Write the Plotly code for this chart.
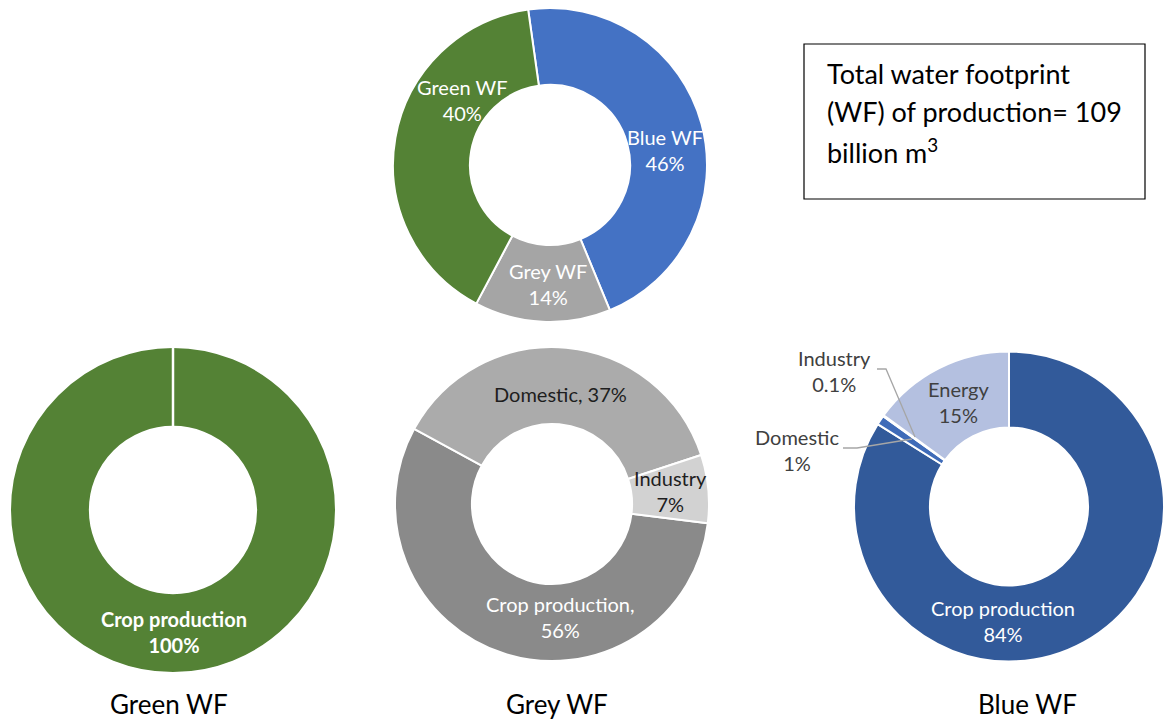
import plotly.graph_objects as go

W, H = 1164, 722
FONT = "Lato"

# ---- data -----------------------------------------------------------
total_labels = ["Blue WF", "Grey WF", "Green WF"]
total_values = [46, 14, 40]
total_colors = ["#4472C4", "#A5A5A5", "#548235"]

green_labels = ["Crop production"]
green_values = [100]

grey_labels = ["Crop production", "Domestic", "Industry"]
grey_values = [56, 37, 7]
grey_colors = ["#8A8A8A", "#ABABAB", "#D2D2D2"]

blue_labels = ["Crop production", "Domestic", "Industry", "Energy"]
blue_values = [84, 1, 0.1, 15]
blue_colors = ["#325A9A", "#3F6BB8", "#6F8FCB", "#B4C0E0"]

panel_titles = ["Green WF", "Grey WF", "Blue WF"]
total_note = ["Total water footprint", "(WF) of production= 109", "billion m<sup>3</sup>"]


def px(x):
    return x / W


def py(y):
    return 1 - y / H


def domain(cx, cy, r):
    return dict(x=[px(cx - r), px(cx + r)], y=[py(cy + r), py(cy - r)])


HOLE = 0.51
BORDER = dict(color="white", width=2)

fig = go.Figure()

# top: split of the total footprint
fig.add_trace(go.Pie(
    labels=total_labels, values=total_values, hole=HOLE, sort=False,
    direction="clockwise", rotation=-8, textinfo="none",
    marker=dict(colors=total_colors, line=BORDER),
    domain=domain(550, 165, 157), showlegend=False))

# bottom left: green WF by sector
g_cx, g_cy, g_r = 173, 510, 163
fig.add_trace(go.Pie(
    labels=green_labels, values=green_values, hole=HOLE, sort=False,
    direction="clockwise", rotation=0, textinfo="none",
    marker=dict(colors=["#548235"], line=BORDER),
    domain=domain(g_cx, g_cy, g_r), showlegend=False))

# bottom middle: grey WF by sector
fig.add_trace(go.Pie(
    labels=grey_labels, values=grey_values, hole=HOLE, sort=False,
    direction="clockwise", rotation=97, textinfo="none",
    marker=dict(colors=grey_colors, line=BORDER),
    domain=domain(552, 504, 157), showlegend=False))

# bottom right: blue WF by sector
fig.add_trace(go.Pie(
    labels=blue_labels, values=blue_values, hole=HOLE, sort=False,
    direction="clockwise", rotation=0, textinfo="none",
    marker=dict(colors=blue_colors, line=BORDER),
    domain=dict(x=[px(854), 1.0], y=[py(661.5), py(351.5)]), showlegend=False))

ann = []


def label(x, y, text, color, size=20):
    ann.append(dict(x=px(x), y=py(y), xref="paper", yref="paper", text=text,
                    showarrow=False, xanchor="center", yanchor="middle",
                    font=dict(family=FONT, size=size, color=color)))


# slice labels
tl = {k: v for k, v in zip(total_labels, total_values)}
label(462, 100, f"Green WF<br>{tl['Green WF']}%", "white")
label(665, 150, f"Blue WF<br>{tl['Blue WF']}%", "white")
label(548, 284, f"Grey WF<br>{tl['Grey WF']}%", "white")

label(174, 632, f"<b>{green_labels[0]}<br>{green_values[0]}%</b>", "white")

gl = {k: v for k, v in zip(grey_labels, grey_values)}
label(560, 394, f"Domestic, {gl['Domestic']}%", "#1E1E1E")
label(670, 491, f"Industry<br>{gl['Industry']}%", "#1E1E1E")
label(560, 617, f"Crop production,<br>{gl['Crop production']}%", "white")

bl = {k: v for k, v in zip(blue_labels, blue_values)}
label(1003, 621, f"Crop production<br>{bl['Crop production']}%", "white")
label(958, 402, f"Energy<br>{bl['Energy']}%", "#404040")
label(834, 371, f"Industry<br>{bl['Industry']}%", "#404040")
label(797, 450, f"Domestic<br>{bl['Domestic']}%", "#404040")

# panel titles
for t, x in zip(panel_titles, [169, 557, 1027]):
    label(x, 704, t, "black", size=26)

# note box text
for i, line in enumerate(total_note):
    ann.append(dict(x=px(825), y=py(73 + 39 * i), xref="paper", yref="paper",
                    text=line, showarrow=False, xanchor="left", yanchor="middle",
                    font=dict(family=FONT, size=27, color="black")))


def path(points):
    return "M " + " L ".join(f"{px(x)},{py(y)}" for x, y in points)


shapes = [
    # note box
    dict(type="rect", xref="paper", yref="paper", x0=px(804), x1=px(1145),
         y0=py(199), y1=py(44), line=dict(color="black", width=1.2)),
    # seam of the single-slice ring
    dict(type="line", xref="paper", yref="paper", x0=px(g_cx), x1=px(g_cx),
         y0=py(g_cy - g_r), y1=py(g_cy - g_r * HOLE), line=dict(color="white", width=2.5)),
    # leader lines for the small slices
    dict(type="path", xref="paper", yref="paper",
         path=path([(877, 369), (886, 369), (915, 437)]),
         line=dict(color="#A6A6A6", width=1.3)),
    dict(type="path", xref="paper", yref="paper",
         path=path([(843, 448), (857, 448), (912, 439)]),
         line=dict(color="#A6A6A6", width=1.3)),
]

fig.update_layout(
    width=W, height=H, autosize=False,
    margin=dict(l=0, r=0, t=0, b=0),
    paper_bgcolor="white", plot_bgcolor="white",
    annotations=ann, shapes=shapes,
    font=dict(family=FONT),
)

fig.write_html("out.html")
